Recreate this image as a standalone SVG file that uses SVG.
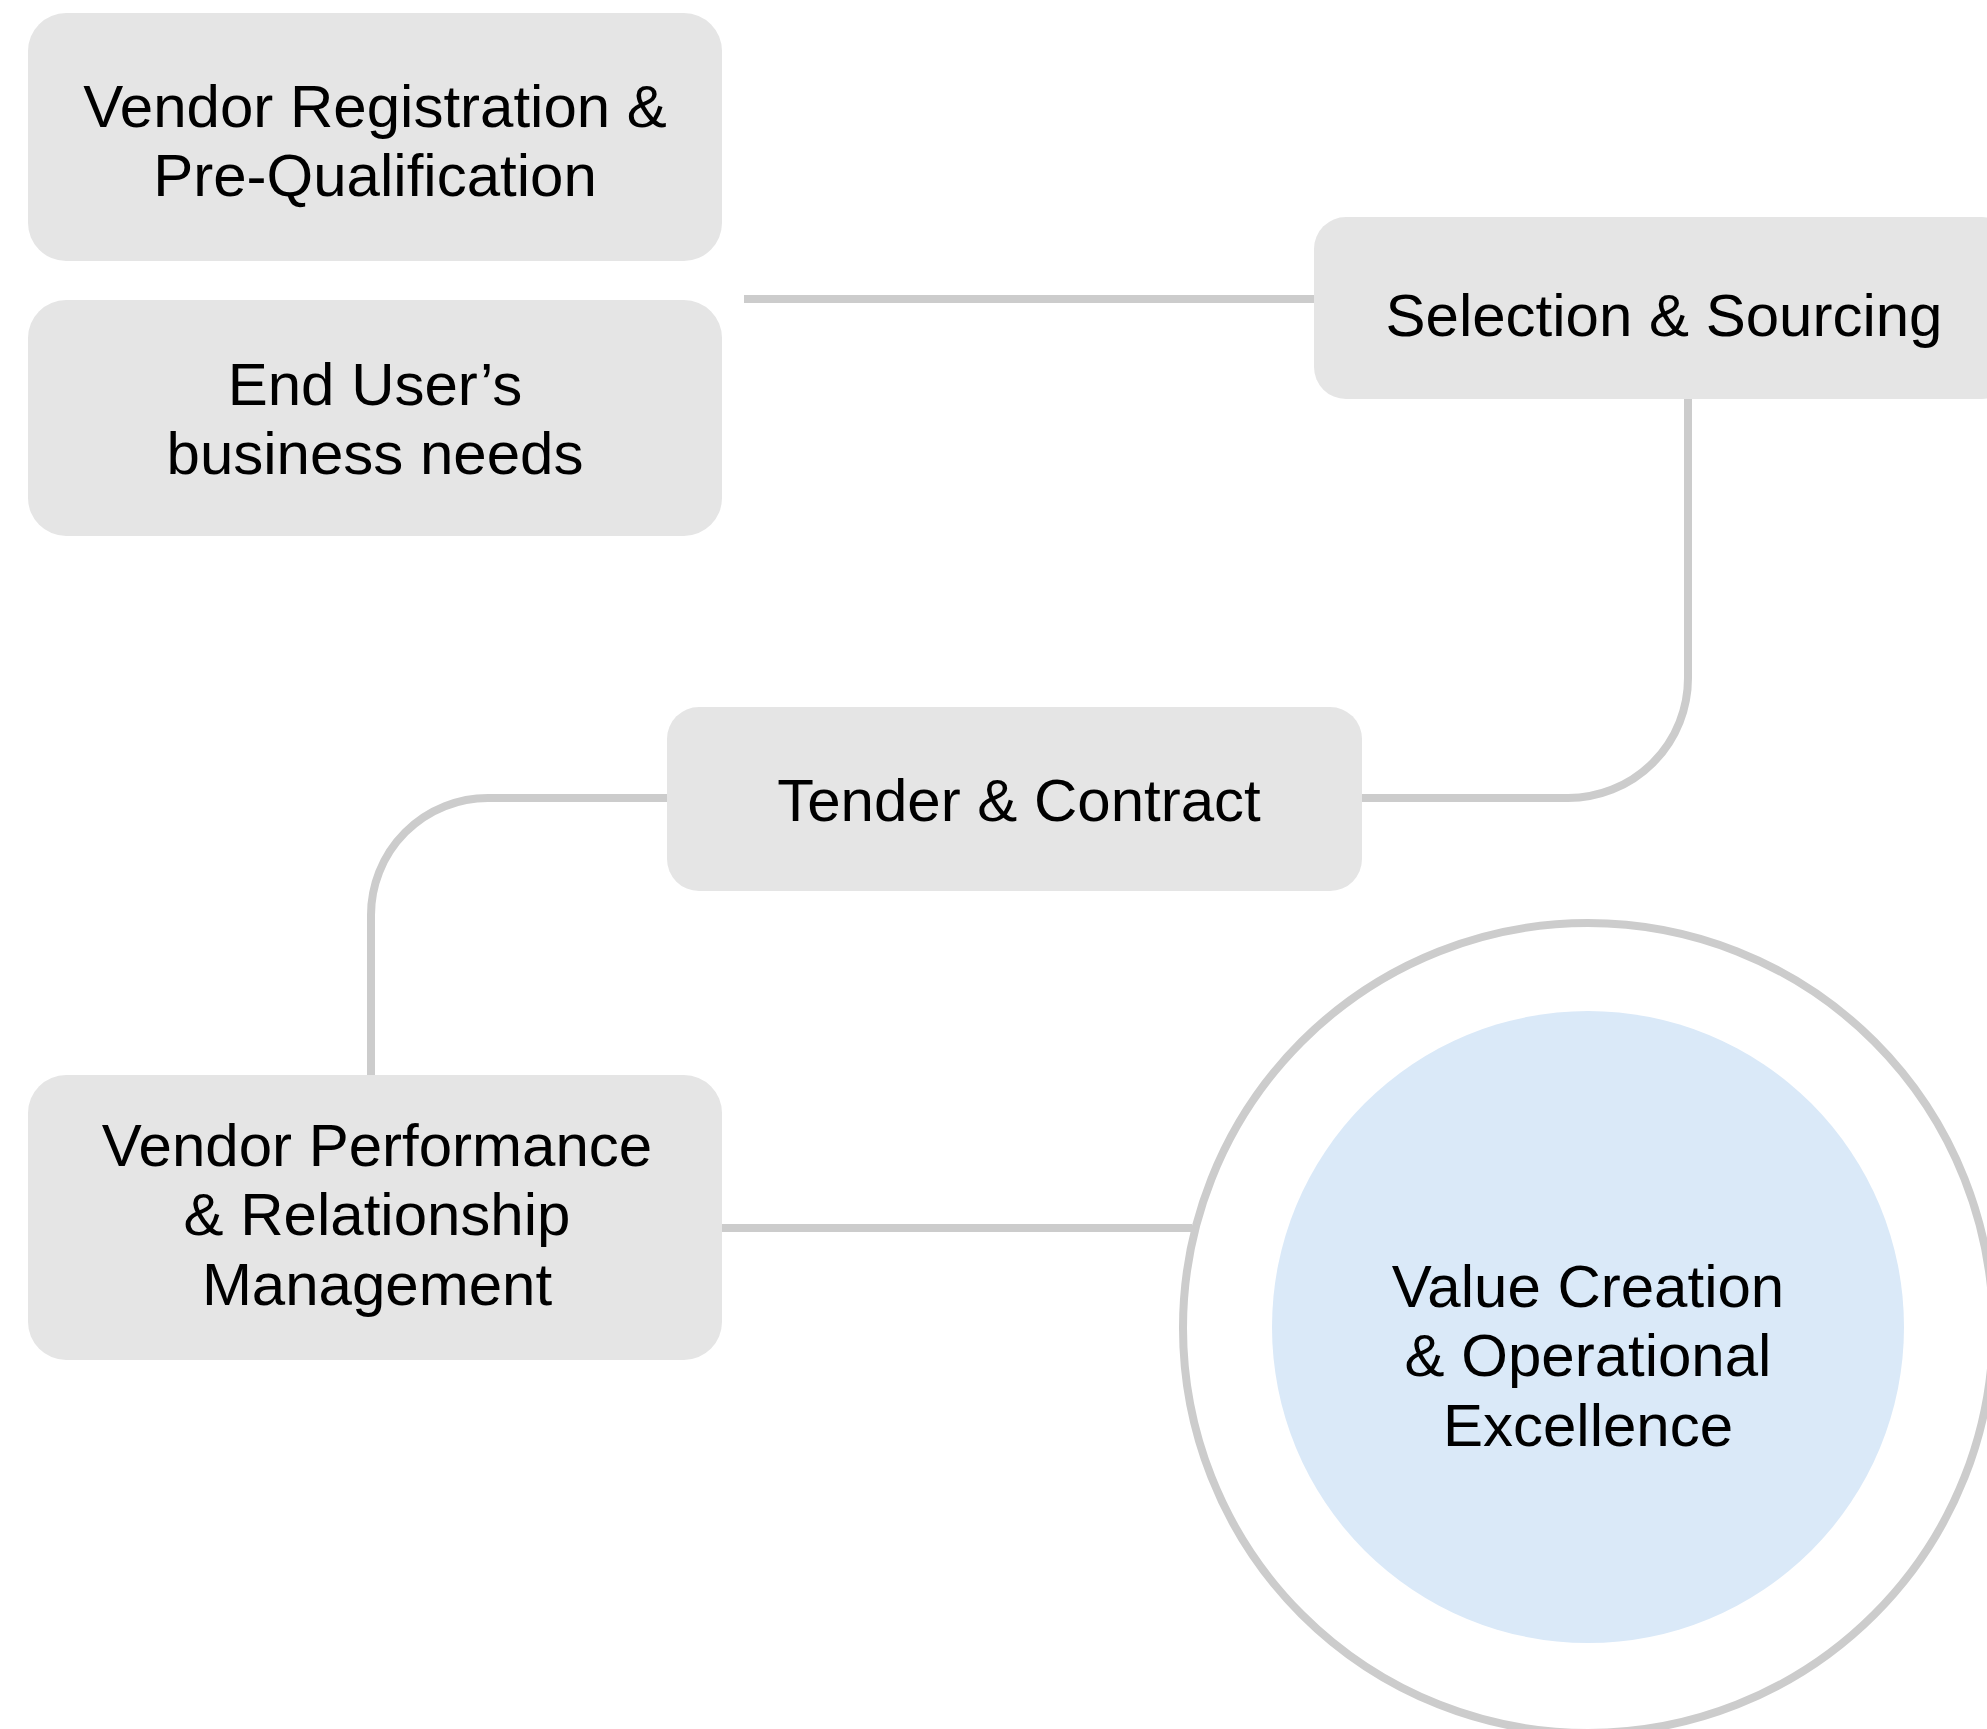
<svg xmlns="http://www.w3.org/2000/svg" width="1987" height="1729" viewBox="0 0 1987 1729">
  <style>
    .box { fill: #e5e5e5; }
    .lbl { font-family: "Liberation Sans", Arial, sans-serif; font-size: 60px; fill: #000; text-anchor: middle; }
    .wire { fill: none; stroke: #cccccc; stroke-width: 8; }
  </style>
  <rect width="1987" height="1729" fill="#ffffff"/>

  <!-- connectors -->
  <g id="connectors">
    <path class="wire" d="M744 299 H1314"/>
    <path class="wire" d="M1688 399 V678 A120 120 0 0 1 1568 798 H1362"/>
    <path class="wire" d="M667 798 H488 A117 117 0 0 0 371 915 V1075"/>
    <path class="wire" d="M722 1228 H1192"/>
  </g>

  <g id="vendor-registration">
    <rect class="box" x="28" y="13" width="694" height="248" rx="38"/>
    <text class="lbl" x="375" y="127">Vendor Registration &amp;</text>
    <text class="lbl" x="375" y="196">Pre-Qualification</text>
  </g>

  <g id="end-user-needs">
    <rect class="box" x="28" y="300" width="694" height="236" rx="38"/>
    <text class="lbl" x="375" y="405">End User’s</text>
    <text class="lbl" x="375" y="474">business needs</text>
  </g>

  <g id="selection-sourcing">
    <rect class="box" x="1314" y="217" width="700" height="182" rx="32"/>
    <text class="lbl" x="1664" y="336">Selection &amp; Sourcing</text>
  </g>

  <g id="tender-contract">
    <rect class="box" x="667" y="707" width="695" height="184" rx="32"/>
    <text class="lbl" x="1019" y="821">Tender &amp; Contract</text>
  </g>

  <g id="vendor-performance">
    <rect class="box" x="28" y="1075" width="694" height="285" rx="38"/>
    <text class="lbl" x="377" y="1166">Vendor Performance</text>
    <text class="lbl" x="377" y="1235">&amp; Relationship</text>
    <text class="lbl" x="377" y="1305">Management</text>
  </g>

  <g id="value-creation">
    <circle cx="1588" cy="1328" r="405" fill="none" stroke="#cccccc" stroke-width="8"/>
    <circle cx="1588" cy="1327" r="316" fill="#dae9f8"/>
    <text class="lbl" x="1588" y="1307">Value Creation</text>
    <text class="lbl" x="1588" y="1376">&amp; Operational</text>
    <text class="lbl" x="1588" y="1446">Excellence</text>
  </g>
</svg>
